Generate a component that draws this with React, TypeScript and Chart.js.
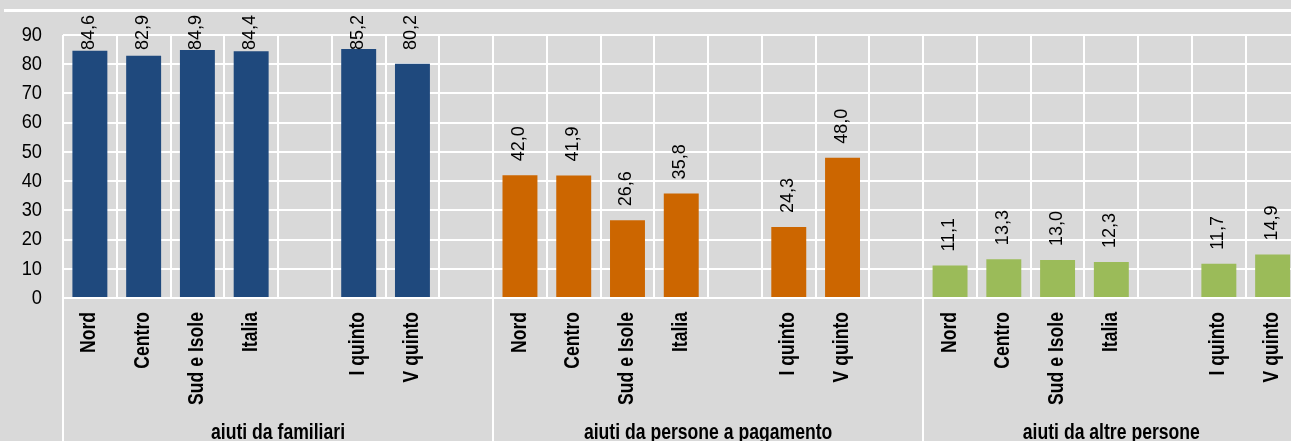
import React, { useEffect, useRef } from "react";
import { Chart, registerables } from "chart.js";

Chart.register(...registerables);

const subCategories = ["Nord", "Centro", "Sud e Isole", "Italia", "", "I quinto", "V quinto"];
const groupNames = ["aiuti da familiari", "aiuti da persone a pagamento", "aiuti da altre persone"];
const familiari = [84.6, 82.9, 84.9, 84.4, null, 85.2, 80.2];
const pagamento = [42.0, 41.9, 26.6, 35.8, null, 24.3, 48.0];
const altrePersone = [11.1, 13.3, 13.0, 12.3, null, 11.7, 14.9];
const groupColors = ["#1F497D", "#CC6600", "#9BBB59"];
const yTicks = [0, 10, 20, 30, 40, 50, 60, 70, 80, 90];

const FONT = '"Liberation Sans", Arial, sans-serif';

const seriesByGroup = [familiari, pagamento, altrePersone];

// Build flat category table: each group followed by a spacer, except the last
const labels: string[] = [];
const values: (number | null)[] = [];
const colors: string[] = [];
const groupRanges: { start: number; count: number }[] = [];
seriesByGroup.forEach((series, g) => {
  const start = labels.length;
  subCategories.forEach((c, i) => {
    labels.push(c);
    values.push(series[i]);
    colors.push(groupColors[g]);
  });
  if (g < seriesByGroup.length - 1) {
    labels.push("");
    values.push(null);
    colors.push(groupColors[g]);
  }
  groupRanges.push({ start, count: labels.length - start });
});

const fmt = (v: number) => v.toFixed(1).replace(".", ",");

function drawText(
  ctx: CanvasRenderingContext2D,
  txt: string,
  x: number,
  y: number,
  font: string,
  align: CanvasTextAlign,
  baseline: CanvasTextBaseline,
  rotate: number,
  squeeze: number
) {
  ctx.save();
  ctx.font = font;
  ctx.textAlign = align;
  ctx.textBaseline = baseline;
  ctx.translate(x, y);
  if (rotate) ctx.rotate(rotate);
  ctx.scale(squeeze, 1);
  ctx.fillText(txt, 0, 0);
  ctx.restore();
}

const decorPlugin = {
  id: "decor",
  beforeDraw(chart: any) {
    const ctx = chart.ctx;
    ctx.save();
    ctx.strokeStyle = "#ffffff";
    ctx.lineWidth = 3;
    ctx.beginPath();
    ctx.moveTo(4, 10.5);
    ctx.lineTo(chart.width, 10.5);
    ctx.stroke();
    ctx.restore();
  },
  afterDraw(chart: any) {
    const ctx: CanvasRenderingContext2D = chart.ctx;
    const xs = chart.scales.x;
    const ys = chart.scales.y;
    const area = chart.chartArea;
    const slot = xs.getPixelForValue(1) - xs.getPixelForValue(0);
    ctx.save();
    // group separators below the plot
    ctx.strokeStyle = "#ffffff";
    ctx.lineWidth = 2;
    groupRanges.forEach((r) => {
      const x = Math.round(xs.getPixelForValue(r.start) - slot / 2);
      ctx.beginPath();
      ctx.moveTo(x, area.bottom);
      ctx.lineTo(x, chart.height);
      ctx.stroke();
    });
    ctx.fillStyle = "#000000";
    // y tick labels
    yTicks.forEach((v) => {
      drawText(ctx, String(v), 42, ys.getPixelForValue(v), `21px ${FONT}`, "right", "middle", 0, 0.87);
    });
    // category labels
    labels.forEach((lab, i) => {
      if (!lab) return;
      drawText(ctx, lab, xs.getPixelForValue(i) - 0.5, area.bottom + 14, `bold 22px ${FONT}`, "right", "middle", -Math.PI / 2, 0.8);
    });
    // group names
    groupRanges.forEach((r, g) => {
      const left = xs.getPixelForValue(r.start) - slot / 2;
      const right = xs.getPixelForValue(r.start + r.count - 1) + slot / 2;
      drawText(ctx, groupNames[g], (left + right) / 2, 439, `bold 22px ${FONT}`, "center", "alphabetic", 0, 0.8);
    });
    // value labels
    const meta = chart.getDatasetMeta(0);
    ctx.font = `18px ${FONT}`;
    meta.data.forEach((el: any, i: number) => {
      const v = values[i];
      if (v == null) return;
      const txt = fmt(v);
      const w = ctx.measureText(txt).width;
      const bottom = Math.max(el.y - 14, 15 + w);
      drawText(ctx, txt, el.x - 1, bottom, `18px ${FONT}`, "left", "middle", -Math.PI / 2, 1);
    });
    ctx.restore();
  },
};

export default function App() {
  const ref = useRef<HTMLCanvasElement | null>(null);
  useEffect(() => {
    if (!ref.current) return;
    const chart = new Chart(ref.current, {
      type: "bar",
      data: {
        labels,
        datasets: [
          {
            data: values as any,
            backgroundColor: colors,
            borderWidth: 0,
            barPercentage: 0.65,
            categoryPercentage: 1,
          },
        ],
      },
      options: {
        responsive: false,
        animation: false,
        layout: { padding: { top: 35, left: 0, right: 10.5, bottom: 0 } },
        plugins: {
          legend: { display: false },
          tooltip: { enabled: false },
          title: { display: false },
        },
        scales: {
          x: {
            afterFit: (s: any) => {
              s.height = 143;
            },
            grid: { color: "#ffffff", lineWidth: 2, drawTicks: false, offset: true },
            border: { display: true, color: "#ffffff", width: 2 },
            ticks: { display: false, autoSkip: false },
          },
          y: {
            min: 0,
            max: 90,
            afterFit: (s: any) => {
              s.width = 63;
            },
            afterBuildTicks: (s: any) => {
              s.ticks = yTicks.map((v) => ({ value: v }));
            },
            grid: { color: "#ffffff", lineWidth: 2, drawTicks: false },
            border: { display: false },
            ticks: { display: false },
          },
        },
      },
      plugins: [decorPlugin],
    });
    return () => chart.destroy();
  }, []);
  return (
    <div
      style={{
        position: "absolute",
        left: 0,
        top: 0,
        width: 1291,
        height: 441,
        overflow: "hidden",
        background: "#d9d9d9",
      }}
    >
      <canvas ref={ref} width={1310} height={441} style={{ display: "block" }} />
    </div>
  );
}
